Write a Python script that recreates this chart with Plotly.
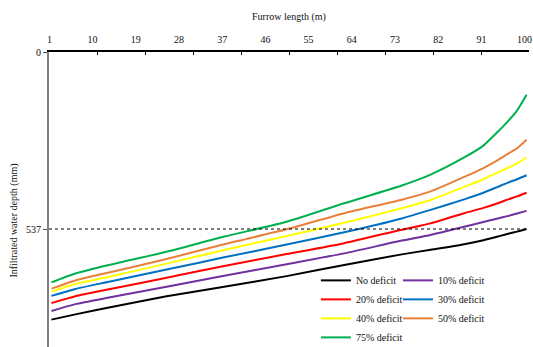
import plotly.graph_objects as go

# Distance along the furrow (m) at which depths were read
length_m = [1, 6, 13, 25, 37, 50, 62, 74, 80, 87, 91, 94, 96, 98, 100]

# Infiltrated water depth (mm) for each irrigation deficit level
no_deficit = [812, 796, 775, 741, 712, 680, 646, 614, 600, 583, 571, 560, 552, 545, 537]
deficit_10 = [786, 765, 745, 712, 679, 644, 611, 572, 555, 530, 516, 505, 498, 490, 482]
deficit_20 = [762, 741, 720, 685, 649, 613, 580, 539, 520, 489, 473, 459, 448, 438, 427]
deficit_30 = [740, 719, 697, 660, 623, 584, 547, 505, 479, 447, 427, 409, 397, 386, 374]
deficit_40 = [727, 704, 682, 642, 601, 558, 518, 474, 449, 409, 386, 365, 352, 338, 320]
deficit_50 = [718, 693, 669, 628, 583, 538, 489, 448, 423, 379, 352, 328, 310, 292, 266]
deficit_75 = [699, 672, 646, 606, 560, 515, 459, 405, 372, 320, 284, 242, 212, 178, 130]

series_names = ["No deficit", "10% deficit", "20% deficit", "30% deficit",
                "40% deficit", "50% deficit", "75% deficit"]
series_values = [no_deficit, deficit_10, deficit_20, deficit_30,
                 deficit_40, deficit_50, deficit_75]
series_colors = ["#000000", "#7030A0", "#FF0000", "#0070C0",
                 "#FFFF00", "#E8803A", "#00B050"]
# Two legend columns: left column takes every other series
series_legend = ["legend", "legend2", "legend", "legend2",
                 "legend", "legend2", "legend"]

# Axis labelling: one category per metre, tick marks every ten metres
x_range = [0.5, 100.5]
x_label_vals = [1, 10, 19, 28, 37, 46, 55, 64, 73, 82, 91, 100]
x_mark_vals = [0.5 + 10 * k for k in range(11)]
y_tick_vals = [0, 537]
reference_depth = [537]

font_family = "Times New Roman, Liberation Serif, Tinos, DejaVu Serif, serif"
text_color = "#111111"

fig = go.Figure()
for name, vals, color, leg in zip(series_names, series_values,
                                  series_colors, series_legend):
    fig.add_trace(go.Scatter(
        x=length_m, y=vals, name=name, mode="lines",
        line=dict(color=color, width=2, shape="spline", smoothing=0.6),
        legend=leg,
    ))

# Invisible trace bound to the secondary x axis so its tick marks render
fig.add_trace(go.Scatter(x=x_range, y=[0, 0], xaxis="x2", mode="lines",
                         line=dict(width=0), showlegend=False, hoverinfo="skip"))

for depth in reference_depth:
    fig.add_hline(y=depth, line=dict(color="#000000", width=1, dash="dot"))

legend_common = dict(
    orientation="v", xanchor="left", yanchor="top",
    font=dict(family=font_family, size=10, color=text_color),
    bgcolor="rgba(0,0,0,0)", itemwidth=30, borderwidth=0,
)

fig.update_layout(
    width=533, height=347,
    margin=dict(l=49, r=4, t=52, b=0, autoexpand=False),
    paper_bgcolor="white", plot_bgcolor="white",
    font=dict(family=font_family, size=10, color=text_color),
    showlegend=True,
    legend=dict(x=0.556, y=0.275, **legend_common),
    legend2=dict(x=0.727, y=0.275, **legend_common),
    xaxis=dict(
        range=x_range, side="top", tickmode="array", tickvals=x_label_vals,
        ticks="", showgrid=False, zeroline=False, ticklabeloverflow="allow",
        ticklabelshift=-2, ticklabelstandoff=3,
        showline=True, linecolor="#000000", linewidth=1.5,
        title=dict(text="Furrow length (m)", standoff=12,
                   font=dict(family=font_family, size=10, color=text_color)),
        tickfont=dict(family=font_family, size=10, color=text_color),
    ),
    xaxis2=dict(
        range=x_range, side="top", overlaying="x", tickmode="array",
        tickvals=x_mark_vals, ticks="inside", ticklen=3, tickcolor="#000000",
        showticklabels=False, showgrid=False, zeroline=False, showline=False,
    ),
    yaxis=dict(
        range=[895, 0], tickmode="array", tickvals=y_tick_vals,
        ticks="outside", ticklen=4, tickcolor="#555555",
        showgrid=False, zeroline=False,
        showline=True, linecolor="#808080", linewidth=2,
        tickfont=dict(family=font_family, size=10, color=text_color),
    ),
    annotations=[dict(
        text="Infiltrated water depth (mm)", textangle=-90,
        xref="paper", yref="paper", x=-0.072, y=0.43,
        xanchor="center", yanchor="middle", showarrow=False,
        font=dict(family=font_family, size=10, color=text_color),
    )],
)

fig.write_html("out.html")
